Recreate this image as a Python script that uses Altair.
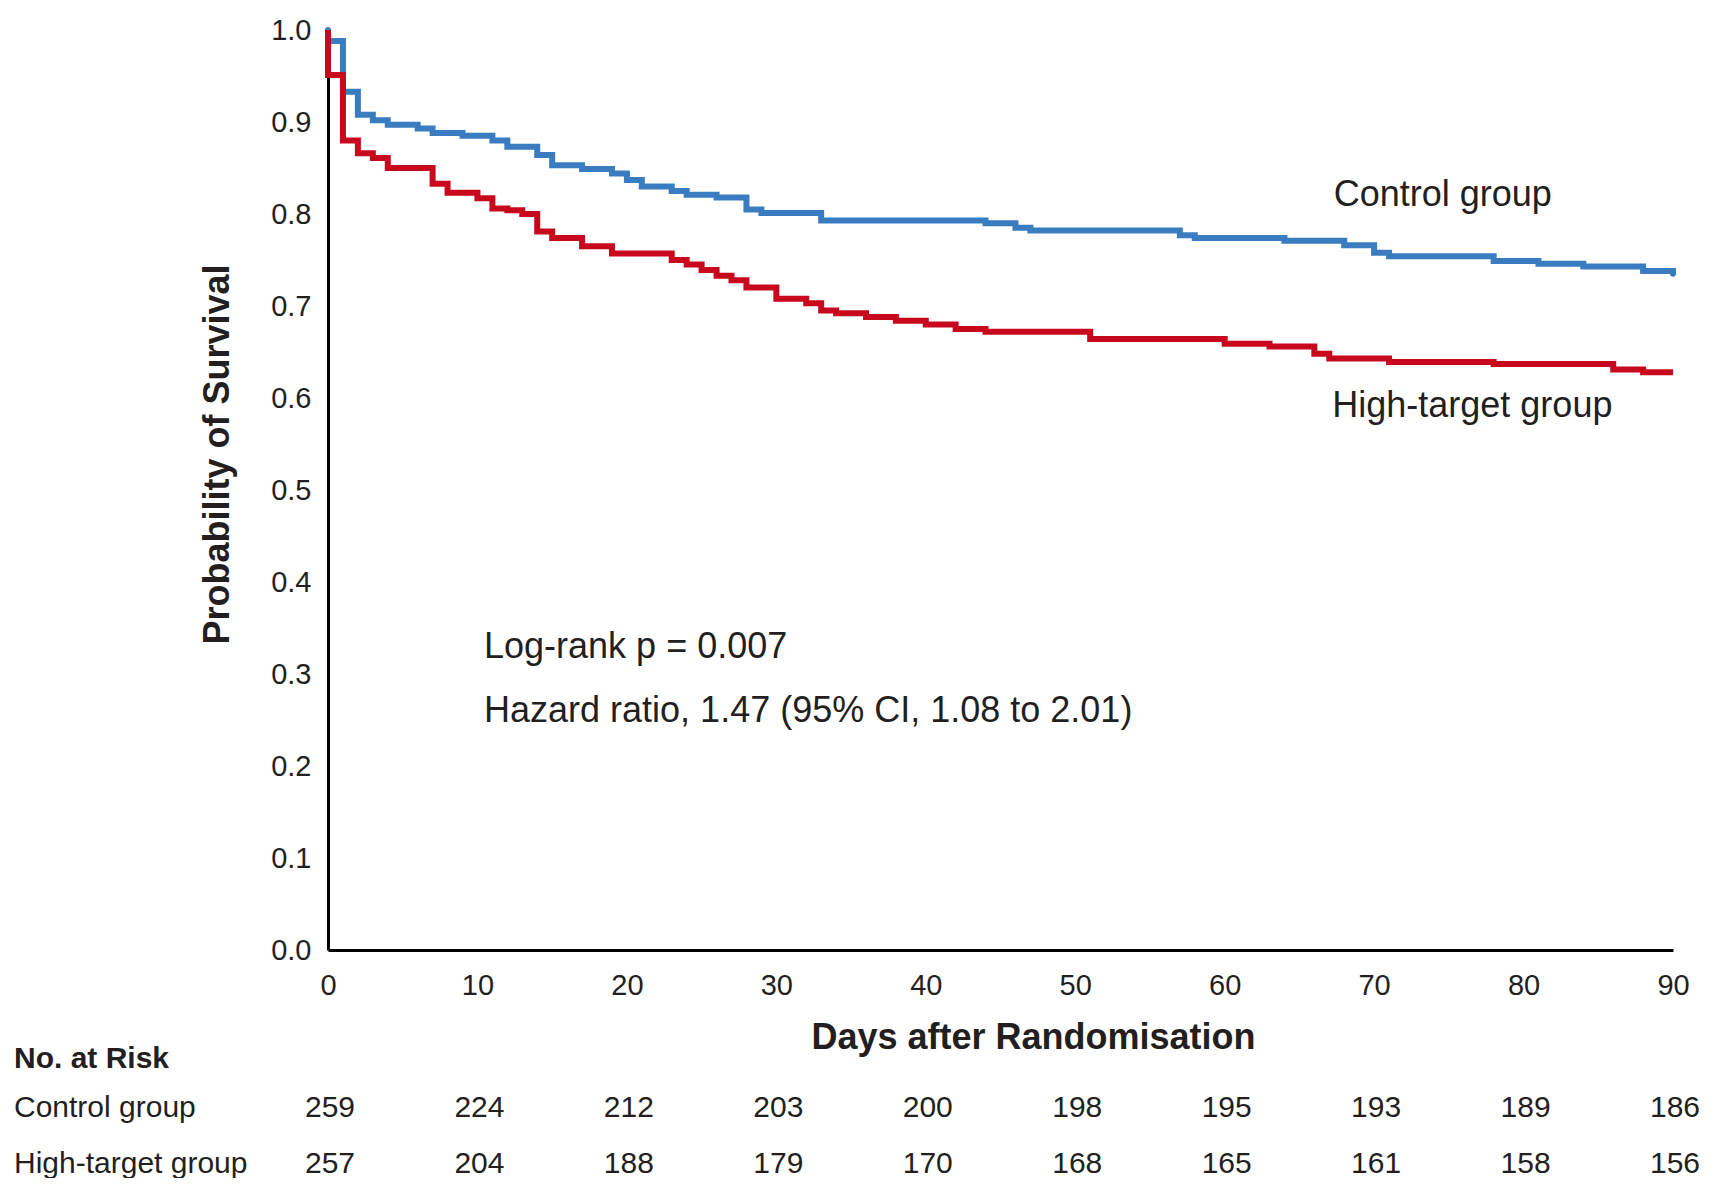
import altair as alt
import pandas as pd

# ---- data ----
ctrl_days = [0, 0, 1, 2, 3, 4, 6, 7, 9, 11, 12, 14, 15, 17, 19, 20, 21, 23, 24, 26, 28, 29, 33,
             44, 46, 47, 57, 58, 64, 68, 70, 71, 78, 81, 84, 88, 90]
ctrl_surv = [1.0, 0.988, 0.933, 0.908, 0.902, 0.897, 0.893, 0.888, 0.885, 0.880, 0.873, 0.864,
             0.853, 0.849, 0.844, 0.837, 0.830, 0.825, 0.821, 0.818, 0.805, 0.801, 0.793,
             0.790, 0.785, 0.782, 0.777, 0.774, 0.771, 0.766, 0.758, 0.754, 0.749, 0.746,
             0.743, 0.738, 0.735]

high_days = [0, 0, 1, 2, 3, 4, 7, 8, 10, 11, 12, 13, 14, 15, 17, 19, 23, 24, 25, 26, 27, 28,
             30, 32, 33, 34, 36, 38, 40, 42, 44, 51, 60, 63, 66, 67, 71, 78, 86, 88, 90]
high_surv = [1.0, 0.951, 0.880, 0.866, 0.861, 0.850, 0.833, 0.823, 0.817, 0.806, 0.804, 0.800,
             0.781, 0.774, 0.765, 0.757, 0.750, 0.745, 0.739, 0.733, 0.728, 0.720, 0.708,
             0.703, 0.695, 0.692, 0.688, 0.684, 0.680, 0.675, 0.672, 0.664, 0.659, 0.656,
             0.648, 0.643, 0.639, 0.637, 0.631, 0.628, 0.628]

risk_days = [0, 10, 20, 30, 40, 50, 60, 70, 80, 90]
risk_ctrl = [259, 224, 212, 203, 200, 198, 195, 193, 189, 186]
risk_high = [257, 204, 188, 179, 170, 168, 165, 161, 158, 156]

group_names = ["Control group", "High-target group"]
x_ticks = list(range(0, 91, 10))
y_ticks = [round(i / 10, 1) for i in range(0, 11)]

BLUE = "#3A7CC0"
RED = "#C8081D"
INK = "#231f20"
FONT = "Liberation Sans"

W, H = 1345, 920

ctrl_df = pd.DataFrame({"day": ctrl_days, "surv": ctrl_surv, "idx": range(len(ctrl_days))})
high_df = pd.DataFrame({"day": high_days, "surv": high_surv, "idx": range(len(high_days))})
risk_c_df = pd.DataFrame({"day": risk_days, "n": risk_ctrl})
risk_h_df = pd.DataFrame({"day": risk_days, "n": risk_high})

xscale = alt.Scale(domain=[0, 90], nice=False, zero=False)
yscale = alt.Scale(domain=[0, 1], nice=False)

xaxis = alt.Axis(values=x_ticks, title="Days after Randomisation", titleFontSize=36,
                 titleFontWeight="bold", titleX=705, titleY=87, titleBaseline="middle",
                 titleAlign="center", labelFontSize=29, labelPadding=21, ticks=False,
                 grid=False, domainColor="black", domainWidth=3, labelFlush=False,
                 labelColor=INK, titleColor=INK, labelFont=FONT, titleFont=FONT)
yaxis = alt.Axis(values=y_ticks, format=".1f", title="Probability of Survival",
                 titleFontSize=36, titleFontWeight="bold", titleX=-111, titleY=424,
                 titleAngle=270, titleBaseline="middle", titleAlign="center",
                 labelFontSize=29, labelPadding=17, ticks=False, grid=False,
                 domainColor="black", domainWidth=3, labelFlush=False,
                 labelColor=INK, titleColor=INK, labelFont=FONT, titleFont=FONT)

blue_line = alt.Chart(ctrl_df).mark_line(
    interpolate="step-after", strokeWidth=6, color=BLUE, strokeCap="round"
).encode(
    x=alt.X("day:Q", scale=xscale, axis=xaxis),
    y=alt.Y("surv:Q", scale=yscale, axis=yaxis),
    order="idx:Q",
)

red_line = alt.Chart(high_df).mark_line(
    interpolate="step-after", strokeWidth=6, color=RED, strokeCap="butt"
).encode(
    x=alt.X("day:Q", scale=xscale),
    y=alt.Y("surv:Q", scale=yscale),
    order="idx:Q",
)

one = pd.DataFrame({"k": [0]})


def label(text, day, prob, size=36):
    return alt.Chart(one).mark_text(
        text=text, align="left", baseline="middle", fontSize=size, font=FONT, color=INK
    ).encode(x=alt.datum(day), y=alt.datum(prob))


lab_ctrl = label(group_names[0], 67.3, 0.821)
lab_high = label(group_names[1], 67.2, 0.591)
lab_lr = label("Log-rank p = 0.007", 10.44, 0.329)
lab_hr = label("Hazard ratio, 1.47 (95% CI, 1.08 to 2.01)", 10.44, 0.260)

risk_title = alt.Chart(one).mark_text(
    text="No. at Risk", align="left", baseline="middle", fontSize=30, fontWeight="bold",
    font=FONT, color=INK
).encode(x=alt.value(-314), y=alt.value(1029))

row_c = alt.Chart(one).mark_text(
    text=group_names[0], align="left", baseline="middle", fontSize=30, font=FONT, color=INK
).encode(x=alt.value(-314), y=alt.value(1078))
row_h = alt.Chart(one).mark_text(
    text=group_names[1], align="left", baseline="middle", fontSize=30, font=FONT, color=INK
).encode(x=alt.value(-314), y=alt.value(1134))

num_c = alt.Chart(risk_c_df).mark_text(
    align="center", baseline="middle", fontSize=30, font=FONT, color=INK, dx=2
).encode(x=alt.X("day:Q", scale=xscale), y=alt.value(1078), text="n:Q")
num_h = alt.Chart(risk_h_df).mark_text(
    align="center", baseline="middle", fontSize=30, font=FONT, color=INK, dx=2
).encode(x=alt.X("day:Q", scale=xscale), y=alt.value(1134), text="n:Q")

chart = alt.layer(
    blue_line, red_line, lab_ctrl, lab_high, lab_lr, lab_hr,
    risk_title, row_c, row_h, num_c, num_h
).properties(
    width=W, height=H,
    autosize=alt.AutoSizeParams(type="none"),
    padding={"left": 320, "top": 22, "right": 35, "bottom": 228},
    background="white",
).configure_view(stroke=None)

chart.save("out.html", embed_options={"renderer": "svg", "actions": False})
